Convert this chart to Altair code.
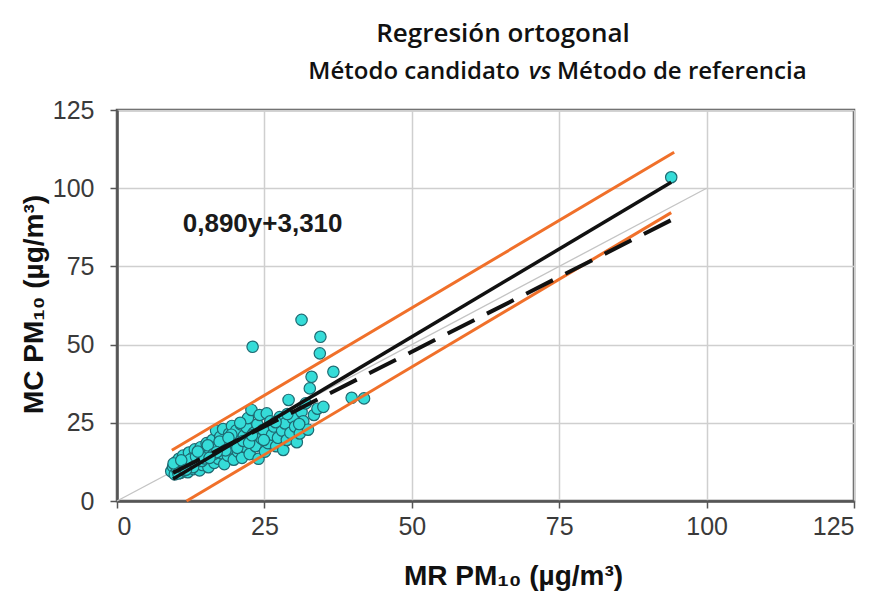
import altair as alt
import pandas as pd

# ---- data ----
mr_values = [
    9.2, 9.5, 9.8, 10.0, 10.2, 10.5, 10.8, 11.0, 11.2, 11.5, 11.8, 12.0, 12.2, 12.5, 12.8,
    13.0, 13.2, 13.5, 13.8, 14.0, 14.2, 14.5, 14.8, 15.0, 15.2, 15.5, 15.8, 16.0, 16.2,
    16.5, 16.8, 17.0, 17.2, 17.5, 17.8, 18.0, 18.2, 18.5, 18.8, 19.0, 19.2, 19.5, 19.8,
    20.0, 20.2, 20.5, 20.8, 21.0, 21.2, 21.5, 21.8, 22.0, 22.2, 22.5, 22.8, 23.0, 23.2,
    23.5, 23.8, 24.0, 24.2, 24.5, 24.8, 25.1, 25.4, 25.6, 26.0, 26.3, 26.6, 27.0, 27.3,
    27.6, 28.0, 28.2, 28.5, 28.8, 29.1, 29.4, 29.8, 30.2, 30.5, 31.0, 31.3, 31.6, 32.0,
    32.4, 32.7, 33.0, 33.4, 34.0, 35.0, 36.7, 39.8, 41.9, 31.3, 34.5, 34.4, 23.0, 94.0,
    9.6, 10.4, 11.4, 12.4, 13.4, 14.4, 15.4, 16.4, 17.4, 18.4, 19.4, 20.4, 21.4, 22.4,
    10.9, 12.9, 14.9, 16.9, 18.9, 20.9, 22.9, 24.9, 26.9, 28.9, 30.9, 11.7, 13.7, 15.7,
]
mc_values = [
    9.5, 11.0, 8.5, 12.5, 10.0, 13.5, 9.0, 11.5, 14.5, 10.5, 12.8, 9.2, 15.5, 11.8, 13.8,
    10.2, 16.5, 12.5, 14.8, 9.8, 17.2, 11.5, 15.5, 13.0, 18.5, 10.8, 16.2, 14.0, 19.5,
    12.2, 22.5, 17.5, 13.5, 20.5, 15.2, 23.0, 11.8, 18.5, 14.5, 21.5, 16.8, 24.0, 13.2,
    19.5, 22.5, 15.8, 18.0, 24.5, 13.8, 20.8, 17.2, 23.5, 26.5, 15.0, 29.1, 19.2, 21.8,
    17.5, 24.5, 13.5, 27.5, 20.0, 22.8, 15.8, 28.0, 18.5, 25.5, 21.2, 23.8, 17.5, 20.2,
    26.8, 22.5, 16.3, 24.8, 19.5, 32.3, 21.8, 26.5, 23.8, 18.8, 21.6, 28.5, 25.5, 31.2,
    22.8, 36.0, 39.7, 27.5, 29.5, 30.1, 41.3, 33.0, 32.8, 57.9, 52.5, 47.2, 49.3, 103.5,
    12.0, 8.8, 9.8, 13.2, 14.2, 12.8, 17.8, 15.0, 19.0, 16.2, 21.2, 17.0, 19.2, 18.6,
    13.0, 10.8, 13.6, 15.6, 20.2, 25.0, 21.0, 19.5, 25.2, 27.8, 24.6, 10.0, 15.8, 13.8,
]

identity_x, identity_y = [0, 100], [0, 100]
fit_x, fit_y = [9.5, 94.0], [7.0, 101.9]
upper_x, upper_y = [9.3, 94.5], [16.2, 111.5]
lower_x, lower_y = [11.8, 94.0], [0.0, 92.2]
dash_x, dash_y = [9.5, 94.0], [9.0, 89.8]

axis_ticks = [0, 25, 50, 75, 100, 125]
equation_label = ["0,890y+3,310"]
equation_pos = [24.7, 86.0]
title_line1 = "Regresión ortogonal"
title_line2 = ["Método candidato", "vs", "Método de referencia"]
x_title = "MR PM₁₀ (µg/m³)"
y_title = "MC PM₁₀ (µg/m³)"

W, H = 737, 391

X = alt.X(
    "x:Q",
    scale=alt.Scale(domain=[0, 125], nice=False),
    axis=alt.Axis(
        values=axis_ticks, title=x_title, titleX=396, titleY=83,
        titleBaseline="alphabetic", titleAlign="center",
        titleFont="Liberation Sans", titleFontSize=28, titleFontWeight="bold",
        labelPadding=6,
    ),
)
Y = alt.Y(
    "y:Q",
    scale=alt.Scale(domain=[0, 125], nice=False),
    axis=alt.Axis(
        values=axis_ticks, title=y_title, titleX=-75, titleY=194, titleAngle=-90,
        titleBaseline="alphabetic", titleAlign="center",
        titleFont="Liberation Sans", titleFontSize=28, titleFontWeight="bold",
        labelPadding=16,
    ),
)

def line_df(xs, ys):
    return pd.DataFrame({"x": xs, "y": ys})

points = alt.Chart(pd.DataFrame({"x": mr_values, "y": mc_values})).mark_point(
    shape="circle", filled=True, size=130, fill="#35DCD8", stroke="#1E6A72",
    strokeWidth=1.2, opacity=1,
).encode(x=X, y=Y)

identity = alt.Chart(line_df(identity_x, identity_y)).mark_line(
    color="#C4C4C4", strokeWidth=1.3
).encode(x=X, y=Y)

upper = alt.Chart(line_df(upper_x, upper_y)).mark_line(
    color="#F0702A", strokeWidth=3
).encode(x=X, y=Y)
lower = alt.Chart(line_df(lower_x, lower_y)).mark_line(
    color="#F0702A", strokeWidth=3
).encode(x=X, y=Y)
fit = alt.Chart(line_df(fit_x, fit_y)).mark_line(
    color="#111111", strokeWidth=3.5
).encode(x=X, y=Y)
dash = alt.Chart(line_df(dash_x, dash_y)).mark_line(
    color="#111111", strokeWidth=4, strokeDash=[30, 14]
).encode(x=X, y=Y)

equation = alt.Chart(pd.DataFrame({"x": [equation_pos[0]], "y": [equation_pos[1]], "t": equation_label})).mark_text(
    font="Liberation Sans", fontSize=26, fontWeight="bold", color="#1a1a1a",
    align="center", baseline="alphabetic",
).encode(x=X, y=Y, text="t:N")

one = pd.DataFrame({"a": [0]})
title_style = dict(font="Open Sans", fontWeight=600, color="#111111", baseline="alphabetic")
t1 = alt.Chart(one).mark_text(text=title_line1, align="center", fontSize=26, **title_style).encode(
    x=alt.value(386), y=alt.value(-68))
t2a = alt.Chart(one).mark_text(text=title_line2[0], align="right", fontSize=24, **title_style).encode(
    x=alt.value(403), y=alt.value(-31))
t2b = alt.Chart(one).mark_text(text=title_line2[1], align="center", fontStyle="italic", fontSize=24, **title_style).encode(
    x=alt.value(423), y=alt.value(-31))
t2c = alt.Chart(one).mark_text(text=title_line2[2], align="left", fontSize=24, **title_style).encode(
    x=alt.value(440), y=alt.value(-31))

chart = alt.layer(
    identity, points, upper, lower, dash, fit, equation, t1, t2a, t2b, t2c
).properties(
    width=W, height=H,
    autosize=alt.AutoSizeParams(type="none"),
    padding={"left": 109, "top": 102, "right": 18, "bottom": 92},
).configure_view(
    stroke="#555555", strokeWidth=2.5,
).configure_axis(
    grid=True, gridColor="#CFCFCF", gridWidth=1.5,
    domainColor="#555555", domainWidth=2.5,
    tickColor="#555555", tickSize=7, tickWidth=1.5,
    labelFont="Liberation Sans", labelFontSize=25, labelColor="#3a3a3a",
    titleColor="#111111",
)

chart.save("out.html", embed_options={"renderer": "svg", "actions": False})
